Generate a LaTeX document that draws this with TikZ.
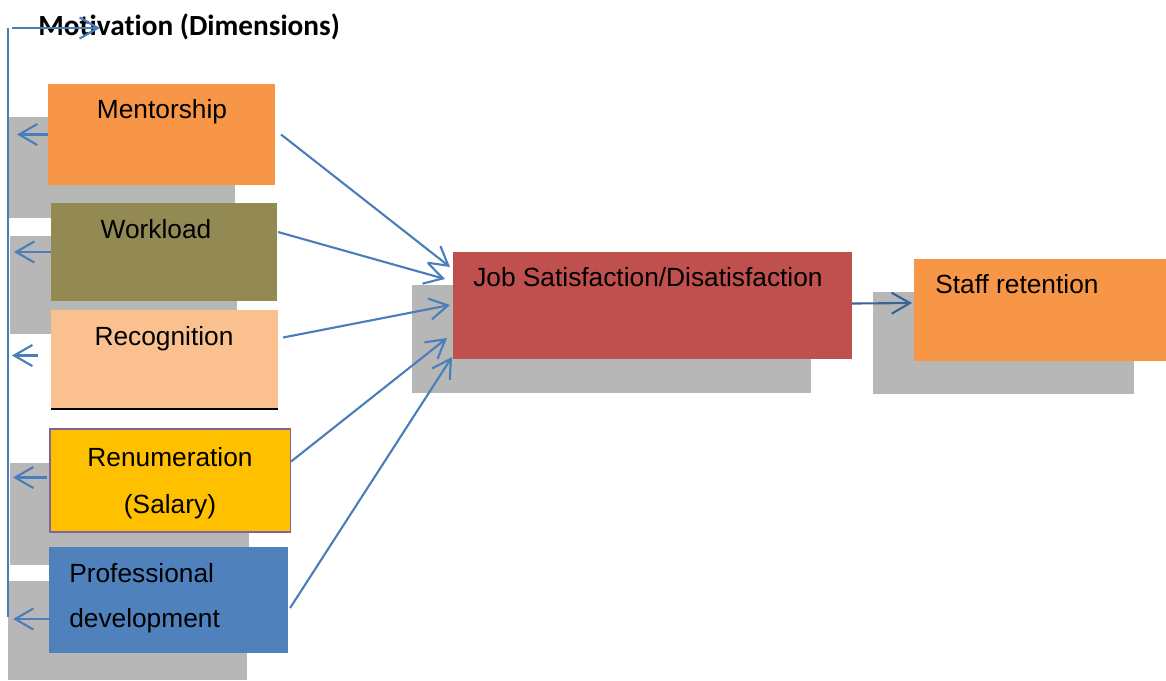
\documentclass[tikz,border=0pt]{standalone}
\usepackage{fontspec}
\setmainfont{Liberation Sans}
\newfontfamily\titlefont[Ligatures=NoCommon]{Carlito}
\usetikzlibrary{arrows.meta}

\definecolor{shadowgray}{RGB}{183,183,183}
\definecolor{mentororange}{RGB}{247,150,70}
\definecolor{workolive}{RGB}{147,137,83}
\definecolor{recogpeach}{RGB}{250,192,144}
\definecolor{salaryyellow}{RGB}{255,192,0}
\definecolor{salarypurple}{RGB}{128,100,162}
\definecolor{devblue}{RGB}{79,129,189}
\definecolor{jobred}{RGB}{192,80,77}
\definecolor{linkblue}{RGB}{74,126,187}
\definecolor{darklink}{RGB}{58,98,148}

\begin{document}
\begin{tikzpicture}[x=0.025cm,y=-0.025cm,
  box/.style={rectangle, inner sep=0pt, outer sep=0pt, anchor=north west},
  shadowbox/.style={box, fill=shadowgray},
  arr/.style={-{Straight Barb[length=13pt,width=15pt]}, linkblue, line width=1.5pt},
  lbl/.style={font=\fontsize{18.7}{22}\selectfont, inner sep=0pt}]

\useasboundingbox (0,0) rectangle (1166,680);

% shadows
\node[shadowbox, minimum width=5.65cm, minimum height=2.525cm] (mentorsh) at (9,117) {};
\node[shadowbox, minimum width=5.675cm, minimum height=2.45cm] (worksh) at (10,236) {};
\node[shadowbox, minimum width=5.975cm, minimum height=2.55cm] (salarysh) at (10,463) {};
\node[shadowbox, minimum width=5.975cm, minimum height=2.475cm] (devsh) at (8,581) {};
\node[shadowbox, minimum width=9.975cm, minimum height=2.7cm] (jobsh) at (412,285) {};
\node[shadowbox, minimum width=6.525cm, minimum height=2.55cm] (staffsh) at (873,292) {};

% boxes
\node[box, fill=mentororange, minimum width=5.675cm, minimum height=2.525cm] (mentor) at (48,84) {};
\node[box, fill=workolive, minimum width=5.65cm, minimum height=2.45cm] (workload) at (51,203) {};
\node[box, fill=recogpeach, minimum width=5.675cm, minimum height=2.475cm] (recog) at (51,310) {};
\draw[line width=1.2pt] (recog.south west) -- (recog.south east);
\node[box, fill=salaryyellow, draw=salarypurple, line width=0.8pt, minimum width=6cm, minimum height=2.575cm] (salary) at (50,429) {};
\node[box, fill=devblue, minimum width=5.975cm, minimum height=2.65cm] (profdev) at (49,547) {};
\node[box, fill=jobred, minimum width=9.975cm, minimum height=2.675cm] (jobsat) at (453,252) {};
\node[box, fill=mentororange, minimum width=6.3cm, minimum height=2.55cm] (staff) at (914,259) {};

% texts
\node[font=\titlefont\fontsize{20.8}{24}\selectfont\bfseries, anchor=base west, inner sep=0pt] (title) at (38,35) {Motivation (Dimensions)};
\node[lbl, anchor=base] (mentortxt) at (162,118) {Mentorship};
\node[lbl, anchor=base] (worktxt) at (156,238) {Workload};
\node[lbl, anchor=base] (recogtxt) at (164,345) {Recognition};
\node[lbl, anchor=base] (salarytxt) at (170,466) {Renumeration};
\node[lbl, anchor=base] (salarytxtb) at (170,513) {(Salary)};
\node[lbl, anchor=base west] (devtxt) at (69,582) {Professional};
\node[lbl, anchor=base west] (devtxtb) at (69,627) {development};
\node[lbl, anchor=base west] (jobtxt) at (473,286) {Job Satisfaction/Disatisfaction};
\node[lbl, anchor=base west] (stafftxt) at (935,293) {Staff retention};

% left spine
\coordinate (spinebot) at (8,617);
\coordinate (spinetop) at (8,28);
\draw[linkblue, line width=1.5pt] (spinebot) -- (spinetop);
\draw[arr] ([shift={(4,0)}]spinetop) -- ++(88,0);

\draw[arr] (mentor.west) -- ++(-31,0);
\draw[arr] (workload.west) -- ++(-37,0);
\draw[arr] ([shift={(-13,-4)}]recog.west) -- ++(-26,0);
\draw[arr] ([shift={(-3,-3)}]salary.west) -- ++(-34,0);
\draw[arr] ([shift={(0,19)}]profdev.west) -- ++(-36,0);

% into job satisfaction
\draw[arr] ([shift={(6,0)}]mentor.east) -- ([shift={(-3,15)}]jobsat.north west);
\draw[arr] ([shift={(1,-20)}]workload.east) -- ([shift={(-8,27)}]jobsat.north west);
\draw[arr] ([shift={(5,-22)}]recog.east) -- ([shift={(-3,53)}]jobsat.north west);
\draw[arr] ([shift={(1,-19)}]salary.east) -- ([shift={(-6,86)}]jobsat.north west);
\draw[arr] ([shift={(2,8)}]profdev.east) -- ([shift={(-1,105)}]jobsat.north west);

\draw[arr, darklink] ([shift={(0,-2)}]jobsat.east) -- ([shift={(-2,-7)}]staff.west);

\end{tikzpicture}
\end{document}
